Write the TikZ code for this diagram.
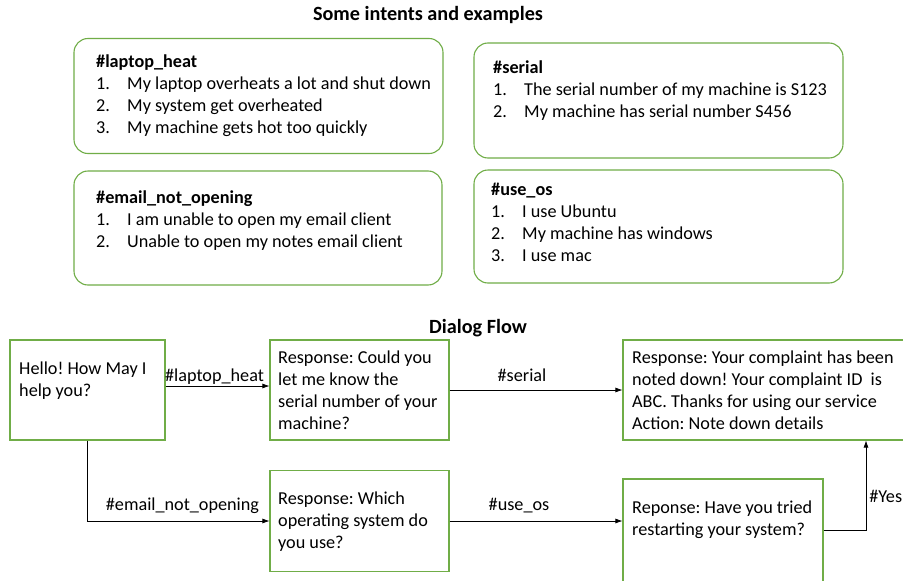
\documentclass[tikz,border=0pt]{standalone}
\usepackage{fontspec}
\setmainfont{Carlito}
\usetikzlibrary{arrows.meta}
\definecolor{boxgreen}{HTML}{70AD47}
\newcommand{\itm}[2]{\makebox[31pt][l]{#1}#2}
\frenchspacing
\begin{document}
\begin{tikzpicture}[x=1pt,y=-1pt,
  every node/.style={font=\fontsize{18.2}{22}\selectfont\frenchspacing, inner sep=0pt},
  intentbox/.style={draw=boxgreen, line width=1.1pt, rounded corners=14pt},
  flowbox/.style={draw=boxgreen, line width=1.1pt},
  txt/.style={anchor=north west, align=left},
  ttl/.style={font=\fontsize{20.2}{24}\selectfont\bfseries},
  arr/.style={draw=black, line width=0.7pt, -{Latex[length=7pt,width=5pt]}},
  lbl/.style={anchor=base}
]
\useasboundingbox (0,0) rectangle (903,581);
\fill[white] (0,0) rectangle (903,581);

% titles
\node[ttl] (t1) at (428,15) {Some intents and examples};
\node[ttl] (t2) at (478,328) {Dialog Flow};

% intent boxes
\node[intentbox, minimum width=369pt, minimum height=115pt] (ib1) at (258.5,96) {};
\node[intentbox, minimum width=369pt, minimum height=115pt] (ib2) at (658.5,100.5) {};
\node[intentbox, minimum width=368pt, minimum height=114pt] (ib3) at (258,228) {};
\node[intentbox, minimum width=369pt, minimum height=113pt] (ib4) at (658.5,226.5) {};

\node[txt] (it1) at (96,51.6) {\strut\textbf{\#laptop\_heat}\\
\itm{1.}{My laptop overheats a lot and shut down}\\
\itm{2.}{My system get overheated}\\
\itm{3.}{My machine gets hot too quickly}};
\node[txt] (it2) at (493,57.6) {\strut\textbf{\#serial}\\
\itm{1.}{The serial number of my machine is S123}\\
\itm{2.}{My machine has serial number S456}};
\node[txt] (it3) at (96,187.6) {\strut\textbf{\#email\_not\_opening}\\
\itm{1.}{I am unable to open my email client}\\
\itm{2.}{Unable to open my notes email client}};
\node[txt] (it4) at (491,179.6) {\strut\textbf{\#use\_os}\\
\itm{1.}{I use Ubuntu}\\
\itm{2.}{My machine has windows}\\
\itm{3.}{I use mac}};

% flow boxes
\node[flowbox, minimum width=155pt, minimum height=100pt] (A) at (87.5,390) {};
\node[flowbox, minimum width=179pt, minimum height=100pt] (B) at (359.5,390) {};
\node[flowbox, minimum width=282pt, minimum height=100pt] (C) at (764,390) {};
\node[flowbox, minimum width=179pt, minimum height=101pt] (D) at (359.5,521) {};
\node[flowbox, minimum width=200pt, minimum height=110pt] (E) at (723,534) {};

\node[txt] (At) at (19,358.6) {\strut Hello! How May I\\help you?};
\node[txt] (Bt) at (278,347.6) {\strut Response: Could you\\let me know the\\serial number of your\\machine?};
\node[txt] (Ct) at (632,347.6) {\strut Response: Your complaint has been\\noted down! Your complaint ID\ \ is\\ABC. Thanks for using our service\\Action: Note down details};
\node[txt] (Dt) at (278,488.6) {\strut Response: Which\\operating system do\\you use?};
\node[txt] (Et) at (632,497.6) {\strut Reponse: Have you tried\\restarting your system?};

% connectors
\draw[arr] ([yshift=4pt]A.east) -- node[lbl, xshift=-3pt, yshift=5pt] (l1) {\#laptop\_heat} ([yshift=4pt]B.west);
\draw[arr] (B.east) -- node[lbl, xshift=-14pt, yshift=9pt] (l2) {\#serial} (C.west);
\draw[arr] (A.south) |- node[lbl, pos=0.75, xshift=4pt, yshift=11pt] (l3) {\#email\_not\_opening} (D.west);
\draw[arr] (D.east) -- node[lbl, xshift=-17pt, yshift=11pt] (l4) {\#use\_os} (D.east -| E.west);
\draw[arr] ([yshift=4pt]E.east) -| node[pos=0.75, anchor=base west, xshift=3pt, yshift=-17pt] (l5) {\#Yes} ([xshift=102pt]C.south);
\end{tikzpicture}
\end{document}
